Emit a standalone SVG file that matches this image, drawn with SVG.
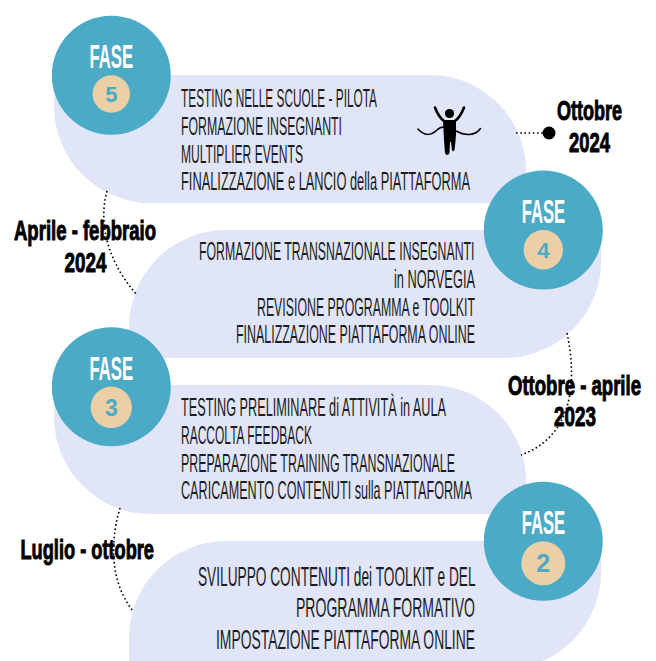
<svg xmlns="http://www.w3.org/2000/svg" width="656" height="661" viewBox="0 0 656 661">
<style>
.band{fill:#E1E5F8}
.fase{fill:#4BAAC5}
.num{fill:#EBCFA6}
.ft{font:bold 33px "Liberation Sans",sans-serif;fill:#fff}
.dg{font:bold 22px "Liberation Sans",sans-serif;fill:#4BAAC5;text-anchor:middle}
.t{font:25px "Liberation Sans",sans-serif;fill:#1c1c22}
.t2{font:28px "Liberation Sans",sans-serif;fill:#1c1c22}
.d{font:bold 28px "Liberation Sans",sans-serif;fill:#000;stroke:#000;stroke-width:1}
.c{fill:none;stroke:#000;stroke-width:1.6;stroke-dasharray:1.6 2.6}
.i{fill:none;stroke:#000;stroke-linecap:round}
</style>
<rect width="656" height="661" fill="#fff"/>
<g id="band-5"><path class="band" d="M54 75H430A96 96 0 0 1 526 171V203H151A97 97 0 0 1 54 106Z"/></g>
<g id="band-4"><path class="band" d="M226 230H601V261A97 97 0 0 1 504 358H129V327A97 97 0 0 1 226 230Z"/></g>
<g id="band-3"><path class="band" d="M54 385H430A96 96 0 0 1 526 481V514H151A97 97 0 0 1 54 417Z"/></g>
<g id="band-2"><path class="band" d="M226 541H601V572A97 97 0 0 1 504 669H129V638A97 97 0 0 1 226 541Z"/></g>
<g id="connectors">
<path class="c" d="M107 191C101 212 100 252 136 294"/>
<path class="c" d="M120 508C112 535 107 578 133 611"/>
<path class="c" d="M567 333C577 380 574 436 521 455"/>
<path class="c" d="M516 133H545"/>
<circle cx="549" cy="133" r="6.5" fill="#000"/>
</g>
<g id="fase-5"><circle class="fase" cx="111.3" cy="75.3" r="59.5"/><text class="ft" x="89.5" y="68" textLength="43.5" lengthAdjust="spacingAndGlyphs">FASE</text><circle class="num" cx="111.3" cy="94" r="18.7"/><text class="dg" x="111.3" y="101.7">5</text>
<text class="t" x="181" y="106.5" textLength="196" lengthAdjust="spacingAndGlyphs">TESTING NELLE SCUOLE - PILOTA</text>
<text class="t" x="181" y="135" textLength="161" lengthAdjust="spacingAndGlyphs">FORMAZIONE INSEGNANTI</text>
<text class="t" x="181" y="163" textLength="122" lengthAdjust="spacingAndGlyphs">MULTIPLIER EVENTS</text>
<text class="t" x="181" y="190" textLength="289" lengthAdjust="spacingAndGlyphs">FINALIZZAZIONE e LANCIO della PIATTAFORMA</text>
</g>
<g id="runner">
<circle cx="449.500" cy="113.500" r="4.600" fill="#000"/>
<path class="i" stroke-width="2.600" d="M435 107.500C437 113 440 118 444 121M464 107.500C462 113 459 118 455 121"/>
<path fill="#000" d="M443 120H456V134L455.500 141L454.500 150Q453.500 152 452 150.500L451 142H450L449.500 153Q447 157 445 153L444 140Z"/>
<path class="i" stroke-width="1.500" d="M418 129C424 136 431 136 437 130C442 125 449 127 456 131C465 136 475 136 480.500 128.500"/>
</g>
<g id="fase-4"><circle class="fase" cx="543.300" cy="230" r="59.500"/><text class="ft" x="521.700" y="222.700" textLength="43.500" lengthAdjust="spacingAndGlyphs">FASE</text><circle class="num" cx="543.300" cy="249.700" r="19.700"/><text class="dg" x="543.300" y="258.300">4</text>
<text class="t" x="199" y="260" textLength="275.500" lengthAdjust="spacingAndGlyphs">FORMAZIONE TRANSNAZIONALE INSEGNANTI</text>
<text class="t" x="394" y="287.500" textLength="81" lengthAdjust="spacingAndGlyphs">in NORVEGIA</text>
<text class="t" x="257" y="316" textLength="218" lengthAdjust="spacingAndGlyphs">REVISIONE PROGRAMMA e TOOLKIT</text>
<text class="t" x="236" y="343" textLength="239" lengthAdjust="spacingAndGlyphs">FINALIZZAZIONE PIATTAFORMA ONLINE</text>
</g>
<g id="fase-3"><circle class="fase" cx="111.300" cy="386.700" r="59.500"/><text class="ft" x="89.500" y="380" textLength="43.500" lengthAdjust="spacingAndGlyphs">FASE</text><circle class="num" cx="111.300" cy="407.300" r="20.700"/><text class="dg" x="111.300" y="416" style="font-size:23px">3</text>
<text class="t" x="181" y="416" textLength="265" lengthAdjust="spacingAndGlyphs">TESTING PRELIMINARE di ATTIVITÀ in AULA</text>
<text class="t" x="181" y="444" textLength="131" lengthAdjust="spacingAndGlyphs">RACCOLTA FEEDBACK</text>
<text class="t" x="181" y="472" textLength="274" lengthAdjust="spacingAndGlyphs">PREPARAZIONE TRAINING TRANSNAZIONALE</text>
<text class="t" x="181" y="499" textLength="291" lengthAdjust="spacingAndGlyphs">CARICAMENTO CONTENUTI sulla PIATTAFORMA</text>
</g>
<g id="fase-2"><circle class="fase" cx="543.300" cy="541.300" r="59.500"/><text class="ft" x="521.700" y="534" textLength="43.500" lengthAdjust="spacingAndGlyphs">FASE</text><circle class="num" cx="543.300" cy="563.300" r="22"/><text class="dg" x="543.300" y="571.700" style="font-size:25px">2</text>
<text class="t2" x="198" y="586" textLength="277.500" lengthAdjust="spacingAndGlyphs">SVILUPPO CONTENUTI dei TOOLKIT e DEL</text>
<text class="t2" x="296" y="617" textLength="179" lengthAdjust="spacingAndGlyphs">PROGRAMMA FORMATIVO</text>
<text class="t2" x="216" y="649" textLength="259" lengthAdjust="spacingAndGlyphs">IMPOSTAZIONE PIATTAFORMA ONLINE</text>
</g>
<g id="date-labels">
<text class="d" x="14" y="240" textLength="142" lengthAdjust="spacingAndGlyphs">Aprile - febbraio</text>
<text class="d" x="64.500" y="272" textLength="42" lengthAdjust="spacingAndGlyphs">2024</text>
<text class="d" x="557" y="120" textLength="65" lengthAdjust="spacingAndGlyphs">Ottobre</text>
<text class="d" x="569" y="152" textLength="41" lengthAdjust="spacingAndGlyphs">2024</text>
<text class="d" x="508" y="395" textLength="133" lengthAdjust="spacingAndGlyphs">Ottobre - aprile</text>
<text class="d" x="554" y="426" textLength="42" lengthAdjust="spacingAndGlyphs">2023</text>
<text class="d" x="20.500" y="559" textLength="133.500" lengthAdjust="spacingAndGlyphs">Luglio - ottobre</text>
</g>
</svg>
